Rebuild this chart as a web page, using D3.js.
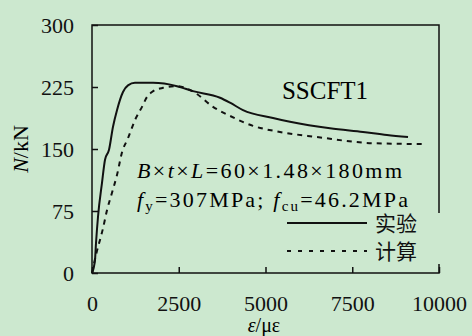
<!DOCTYPE html>
<html>
<head>
<meta charset="utf-8">
<script src="https://cdn.jsdelivr.net/npm/d3@7"></script>
</head>
<body style="margin:0; background:#cce8cf">
<script>
// strain (με) vs load (kN)
const testStrain = [0, 86, 115, 173, 288, 375, 490, 605, 720, 893, 1037, 1239, 1758, 2450, 2911, 3689, 3977, 4352, 5216, 5706, 6859, 7810, 8501, 9107];
const testLoad   = [0, 15.7, 36, 68, 109, 137, 149, 177, 197, 219, 227, 230, 230, 226, 220, 212, 206, 197, 187.5, 183, 175, 170.6, 167, 164.5];

const calcStrain = [0, 115, 230, 317, 432, 576, 720, 865, 1037, 1239, 1441, 1585, 1729, 2046, 2450, 2968, 3487, 3977, 4640, 5418, 6484, 8098, 9597];
const calcLoad   = [0, 22, 40, 54, 76, 97, 118.5, 146, 163, 185, 201, 213, 219, 224, 226, 218, 201, 190, 178, 170.6, 164.5, 157, 156];

const xTicks = [0, 2500, 5000, 7500, 10000];
const yTicks = [0, 75, 150, 225, 300];
const legendLabels = ['实验', '计算'];

const width = 472, height = 336;
const margin = {top: 25, right: 33, bottom: 63, left: 92};
const bg = '#cce8cf';
const ink = '#111';
const serif = '"Liberation Serif", "Noto Sans CJK SC"';

const svg = d3.select('body').append('svg')
    .attr('width', width)
    .attr('height', height)
    .style('display', 'block');

svg.append('rect').attr('width', width).attr('height', height).attr('fill', bg);

const x = d3.scaleLinear().domain([0, 10000]).range([margin.left, width - margin.right]);
const y = d3.scaleLinear().domain([0, 300]).range([height - margin.bottom, margin.top]);

// frame
svg.append('rect')
    .attr('x', x(0)).attr('y', y(300))
    .attr('width', x(10000) - x(0)).attr('height', y(0) - y(300))
    .attr('fill', 'none').attr('stroke', ink).attr('stroke-width', 1.5);

// axes, ticks pointing inwards
function styleAxis(g) {
    g.select('.domain').remove();
    g.selectAll('.tick line').attr('stroke', ink).attr('stroke-width', 1.5);
    g.selectAll('.tick text').attr('fill', ink).attr('font-size', 22);
}

svg.append('g')
    .attr('transform', `translate(0,${y(0)})`)
    .call(d3.axisBottom(x).tickValues(xTicks).tickFormat(d3.format('d'))
        .tickSizeInner(-6).tickSizeOuter(0).tickPadding(22))
    .call(styleAxis);

svg.append('g')
    .attr('transform', `translate(${x(0)},0)`)
    .call(d3.axisLeft(y).tickValues(yTicks).tickFormat(d3.format('d'))
        .tickSizeInner(-6).tickSizeOuter(0).tickPadding(18))
    .call(styleAxis);

// axis titles
const xt = svg.append('text')
    .attr('x', 264).attr('y', 332)
    .attr('text-anchor', 'middle')
    .attr('font-size', 20);
xt.append('tspan').attr('font-style', 'italic').text('ε');
xt.append('tspan').text('/με');

const yt = svg.append('text')
    .attr('transform', 'translate(28,149) rotate(-90)')
    .attr('text-anchor', 'middle')
    .attr('font-size', 22);
yt.append('tspan').attr('font-style', 'italic').text('N');
yt.append('tspan').text('/kN');

// curves
const line = d3.line()
    .x(d => x(d[0]))
    .y(d => y(d[1]))
    .curve(d3.curveMonotoneX);

svg.append('path')
    .datum(d3.zip(testStrain, testLoad))
    .attr('d', line)
    .attr('fill', 'none').attr('stroke', ink).attr('stroke-width', 2);

svg.append('path')
    .datum(d3.zip(calcStrain, calcLoad))
    .attr('d', line)
    .attr('fill', 'none').attr('stroke', ink).attr('stroke-width', 2)
    .attr('stroke-dasharray', '5,5');

// specimen label
svg.append('text')
    .attr('x', 325).attr('y', 99)
    .attr('text-anchor', 'middle')
    .attr('font-size', 25)
    .text('SSCFT1');

// specimen parameters
const t1 = svg.append('text')
    .attr('x', 137).attr('y', 178)
    .attr('font-size', 22)
    .attr('textLength', 265).attr('lengthAdjust', 'spacing');
t1.append('tspan').attr('font-style', 'italic').text('B');
t1.append('tspan').text('×');
t1.append('tspan').attr('font-style', 'italic').text('t');
t1.append('tspan').text('×');
t1.append('tspan').attr('font-style', 'italic').text('L');
t1.append('tspan').text('=60×1.48×180mm');

const t2 = svg.append('text')
    .attr('x', 137).attr('y', 207)
    .attr('font-size', 22)
    .attr('textLength', 271).attr('lengthAdjust', 'spacing');
t2.append('tspan').attr('font-style', 'italic').text('f');
t2.append('tspan').attr('font-size', 15).attr('dy', 4).text('y');
t2.append('tspan').attr('dy', -4).text('=307MPa; ');
t2.append('tspan').attr('font-style', 'italic').text('f');
t2.append('tspan').attr('font-size', 15).attr('dy', 4).text('cu');
t2.append('tspan').attr('dy', -4).text('=46.2MPa');

// legend box covers part of the frame
const lg = svg.append('g');
lg.append('rect')
    .attr('x', 283).attr('y', 213)
    .attr('width', 160).attr('height', 51)
    .attr('fill', bg);

const legendY = [223, 251];
legendLabels.forEach((label, i) => {
    lg.append('line')
        .attr('x1', 287).attr('x2', 367)
        .attr('y1', legendY[i]).attr('y2', legendY[i])
        .attr('stroke', ink).attr('stroke-width', 2)
        .attr('stroke-dasharray', i === 1 ? '4,7' : null);
    lg.append('text')
        .attr('x', 375).attr('y', legendY[i] + 8)
        .attr('font-size', 21)
        .attr('fill', ink)
        .text(label);
});

// serif face on every text, forced past any other font rule
svg.selectAll('text, tspan').style('font-family', serif, 'important');
</script>
</body>
</html>
